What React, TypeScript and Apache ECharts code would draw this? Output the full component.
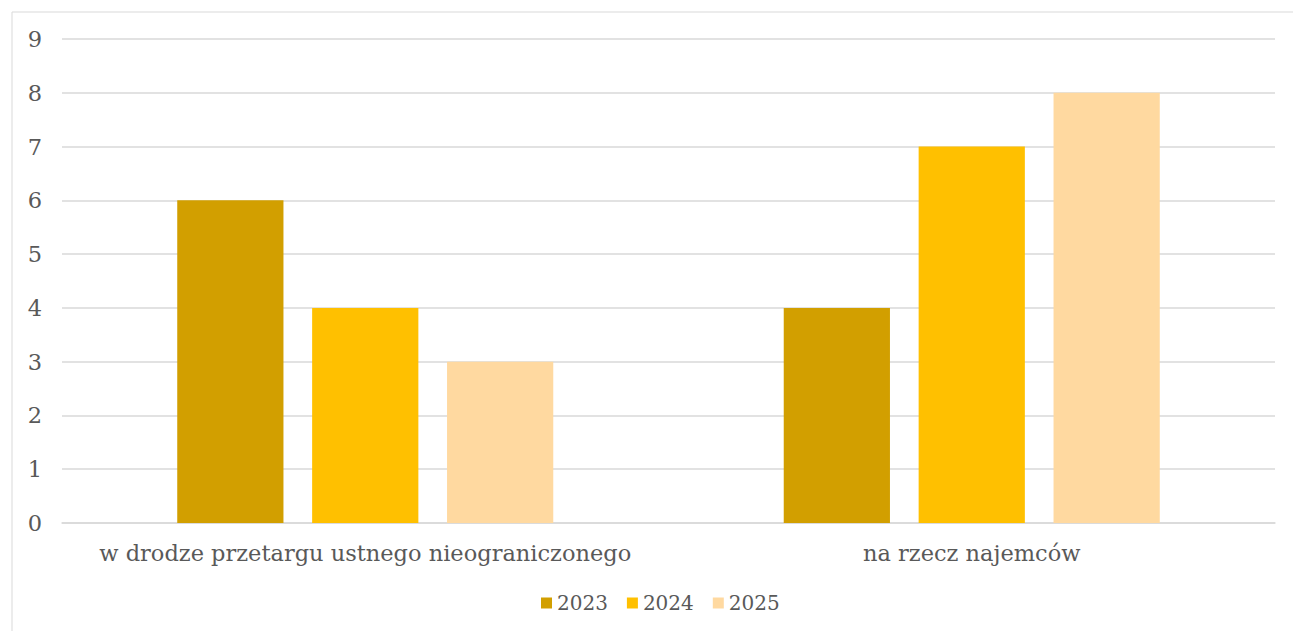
import React, { useEffect, useRef } from "react";
import * as echarts from "echarts";

const categories = ["w drodze przetargu ustnego nieograniczonego", "na rzecz najemców"];
const seriesNames = ["2023", "2024", "2025"];
const values2023 = [6, 4];
const values2024 = [4, 7];
const values2025 = [3, 8];
const colors = ["#D29F00", "#FFC000", "#FFD9A0"];

const FONT = "DejaVu Serif";

export default function App() {
  const ref = useRef<HTMLDivElement>(null);
  useEffect(() => {
    document.body.style.margin = "0";
    const chart = echarts.init(ref.current!, null, { renderer: "svg" });
    const data = [values2023, values2024, values2025];
    chart.setOption({
      animation: false,
      backgroundColor: "#ffffff",
      textStyle: { fontFamily: FONT },
      graphic: [
        {
          type: "rect",
          left: 9.5,
          top: 9.5,
          shape: { x: 0, y: 0, width: 1400, height: 700 },
          style: { fill: "none", stroke: "#d9d9d9", lineWidth: 1 },
          silent: true,
        },
      ],
      grid: { left: 62, right: 18, top: 39, bottom: 108 },
      legend: {
        top: 588,
        left: 536,
        itemWidth: 11,
        itemHeight: 11,
        itemGap: 19,
        icon: "rect",
        textStyle: { fontFamily: FONT, fontSize: 20, color: "#595959" },
        data: seriesNames,
      },
      xAxis: {
        type: "category",
        data: categories,
        axisLine: { lineStyle: { color: "#d9d9d9", width: 1.5 } },
        axisTick: { show: false },
        axisLabel: { fontFamily: FONT, fontSize: 22.5, color: "#595959", margin: 18, interval: 0 },
      },
      yAxis: {
        type: "value",
        min: 0,
        max: 9,
        interval: 1,
        axisLine: { show: false },
        axisTick: { show: false },
        splitLine: { lineStyle: { color: "#d9d9d9", width: 1.5 } },
        axisLabel: { fontFamily: FONT, fontSize: 22.5, color: "#595959", margin: 20 },
      },
      series: seriesNames.map((name, i) => ({
        name,
        type: "bar",
        data: data[i],
        itemStyle: { color: colors[i] },
        barGap: "27%",
        barCategoryGap: "38%",
      })),
    });
    return () => chart.dispose();
  }, []);
  return <div ref={ref} style={{ width: 1293, height: 631 }} />;
}
